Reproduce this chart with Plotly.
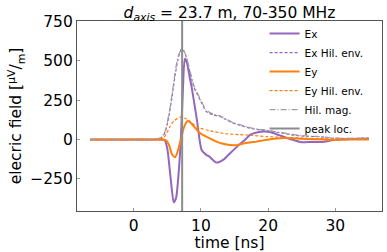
import plotly.graph_objects as go

# ---- data ----
t_ex = [-6.5, 3.0, 4.0, 4.6, 5.0, 5.5, 5.95, 6.3, 6.7, 7.0, 7.3, 7.6, 7.9, 8.3, 8.6, 9.4, 10.1, 10.8, 11.3, 12.3, 13.3, 14.5, 15.5, 16.6, 17.3, 18.3, 19.5, 20.5, 21.5, 22.5, 23.5, 25.0, 26.5, 28.0, 29.5, 31.0, 33.0, 35.0]
ex    = [0, 0, 0, -5, -60, -250, -398, -370, -200, 0, 300, 512, 490, 400, 337, 125, -66, -97, -110, -146, -129, -80, -40, 0, 30, 45, 51, 45, 30, 15, 0, -17, -15, -15, -5, 2, 4, 6]

t_env = [-6.5, 3.0, 3.5, 4.2, 4.7, 5.2, 5.7, 6.2, 6.6, 7.1, 7.5, 7.9, 8.4, 8.9, 9.4, 9.85, 10.8, 11.8, 12.8, 13.8, 14.8, 16.0, 17.3, 18.5, 19.8, 21.0, 22.3, 23.5, 24.8, 26.0, 27.3, 28.5, 29.8, 32.0, 35.0]
ex_env = [0, 0, 3, 15, 50, 140, 273, 420, 510, 574, 560, 510, 420, 338, 290, 253, 178, 157, 146, 125, 104, 88, 72, 63, 57, 48, 40, 30, 23, 20, 19, 15, 8, 7, 10]
hil_mag = [0, 0, 4, 18, 58, 155, 290, 440, 528, 572, 560, 515, 430, 350, 300, 263, 185, 162, 150, 129, 108, 92, 76, 66, 60, 51, 43, 33, 26, 22, 20, 16, 9, 8, 10]

t_ey = [-6.5, 3.0, 4.0, 4.8, 5.3, 5.7, 6.14, 6.5, 7.0, 7.5, 8.0, 8.4, 9.0, 9.85, 10.3, 11.3, 12.3, 13.3, 14.3, 15.3, 16.3, 17.3, 18.3, 19.3, 20.3, 22.2, 24.8, 27.0, 29.8, 32.0, 35.0]
ey   = [0, 0, 0, -5, -40, -95, -112, -80, 0, 80, 117, 110, 80, 41, 30, 8, -13, -27, -35, -36, -25, -18, -13, -5, 2, 10, 6, 2, -2, 0, 0]

t_eye = [-6.5, 3.0, 3.8, 4.4, 4.9, 5.4, 6.0, 6.9, 7.6, 8.4, 9.4, 9.85, 11.3, 11.8, 13.3, 13.8, 15.8, 16.8, 19.8, 23.2, 24.8, 27.0, 29.8, 32.0, 35.0]
ey_env = [0, 0, 2, 9, 40, 83, 120, 142, 135, 115, 80, 72, 56, 51, 40, 37, 31, 29, 19, 12, 10, 7, 4, 3, 3]

peak_t = 7.2
x_ticks = [0, 10, 20, 30]
y_ticks = [-250, 0, 250, 500, 750]

PURPLE = "#9467bd"
ORANGE = "#ff7f0e"
GRAY = "#8c8c8c"

fig = go.Figure()
fig.add_trace(go.Scatter(x=t_ex, y=ex, mode="lines", name="Ex",
                         line=dict(color=PURPLE, width=2, shape="spline", smoothing=0.6)))
fig.add_trace(go.Scatter(x=t_env, y=ex_env, mode="lines", name="Ex Hil. env.",
                         line=dict(color=PURPLE, width=1.2, dash="3px,2px", shape="spline", smoothing=0.6)))
fig.add_trace(go.Scatter(x=t_ey, y=ey, mode="lines", name="Ey",
                         line=dict(color=ORANGE, width=2, shape="spline", smoothing=0.6)))
fig.add_trace(go.Scatter(x=t_eye, y=ey_env, mode="lines", name="Ey Hil. env.",
                         line=dict(color=ORANGE, width=1.2, dash="3px,2px", shape="spline", smoothing=0.6)))
fig.add_trace(go.Scatter(x=t_env, y=hil_mag, mode="lines", name="Hil. mag.",
                         line=dict(color="#a0a0a0", width=1.2, dash="6px,2px,1px,2px", shape="spline", smoothing=0.6)))
fig.add_trace(go.Scatter(x=[peak_t, peak_t], y=[-460, 760], mode="lines", name="peak loc.",
                         line=dict(color=GRAY, width=2)))

FONT = "DejaVu Sans"
fig.update_layout(
    width=387, height=252,
    margin=dict(l=77, r=5, t=21, b=41, autoexpand=False),
    paper_bgcolor="white", plot_bgcolor="white",
    font=dict(family=FONT, size=15, color="black"),
    showlegend=True,
    legend=dict(x=0.615, y=1.01, xanchor="left", yanchor="top",
                font=dict(family=FONT, size=10.5, color="black"),
                bgcolor="rgba(255,255,255,0)", borderwidth=0,
                tracegroupgap=0, itemwidth=30),
    title=dict(text="<i>d</i><sub><i>axis</i></sub> = 23.7 m, 70-350 MHz",
               x=0.5, xref="paper", xanchor="center",
               y=1.0, yref="paper", yanchor="bottom", pad=dict(b=3),
               font=dict(family=FONT, size=15.5, color="black")),
)
fig.update_xaxes(range=[-8.45, 36.95], tickvals=x_ticks, ticks="inside", ticklen=3,
                 tickcolor="#999", showgrid=False, zeroline=False, automargin=False,
                 showline=True, linecolor="#555", linewidth=1.2, mirror=True,
                 tickfont=dict(size=15.5), title=dict(text="time [ns]", standoff=0, font=dict(size=15.5)))
fig.update_yaxes(range=[-453, 752], tickvals=y_ticks, ticks="inside", ticklen=3,
                 tickcolor="#999", showgrid=False, zeroline=False, automargin=False,
                 showline=True, linecolor="#555", linewidth=1.2, mirror=True,
                 tickfont=dict(size=15.5),
                 title=dict(text="elecric field [<sup>μV</sup>/<sub>m</sub>]", standoff=4, font=dict(size=15.5)))

fig.write_html("out.html", config={"displayModeBar": False},
               post_script="document.body.style.margin='0';")
